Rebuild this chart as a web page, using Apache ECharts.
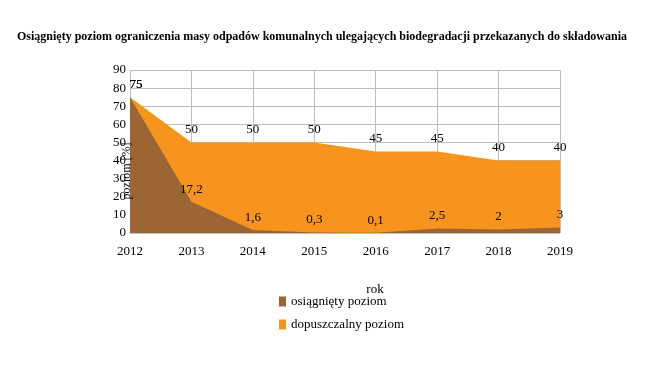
<!DOCTYPE html>
<html><head><meta charset="utf-8">
<script src="https://cdn.jsdelivr.net/npm/echarts@6/dist/echarts.min.js"></script>
<style>html,body{margin:0;padding:0;background:#fff}#c{width:657px;height:369px}</style>
</head><body><div id="c"></div>
<script>
var years = ['2012','2013','2014','2015','2016','2017','2018','2019'];
var osiagniety = [75, 17.2, 1.6, 0.3, 0.1, 2.5, 2, 3];
var dopuszczalny = [75, 50, 50, 50, 45, 45, 40, 40];
var seriesNames = ['osiągnięty poziom', 'dopuszczalny poziom'];
var yAxisName = 'poziom [%]';
var font = 'Liberation Serif, Times New Roman, serif';
function fmt(v){ return String(v).replace('.', ','); }
function mk(arr){
  return arr.map(function(v,i){
    var o = {value: v};
    if (i === 0) o.label = {offset: [6, 0]};
    return o;
  });
}
var chart = echarts.init(document.getElementById('c'));
chart.setOption({
  animation: false,
  title: {text: 'Osiągnięty poziom ograniczenia masy odpadów komunalnych ulegających biodegradacji przekazanych do składowania',
    left: 12, top: 26, textStyle: {fontFamily: font, fontSize: 12, fontWeight: 'bold', color: '#000'}},
  grid: {left: 130, right: 97, top: 70, bottom: 136},
  legend: {orient: 'vertical', left: 274, top: 290, itemWidth: 7, itemHeight: 10, itemGap: 10,
    data: [seriesNames[0], seriesNames[1]],
    textStyle: {fontFamily: font, fontSize: 13, color: '#000'}, icon: 'rect'},
  graphic: [{type: 'text', x: 127, y: 171, rotation: Math.PI / 2, z: 10,
    style: {text: yAxisName, fontFamily: font, fontSize: 12, fill: '#000', align: 'center', verticalAlign: 'middle'}}],
  xAxis: {type: 'category', data: years, boundaryGap: false,
    name: 'rok', nameLocation: 'middle', nameGap: 50,
    nameTextStyle: {fontFamily: font, fontSize: 13, color: '#000', padding: [0, 0, 0, 60]},
    axisLine: {show: false}, axisTick: {show: false},
    axisLabel: {fontFamily: font, fontSize: 13, color: '#000', margin: 12},
    splitLine: {show: true, lineStyle: {color: '#bdbdbd', width: 1}}},
  yAxis: {type: 'value', min: 0, max: 90, interval: 10,
    axisLine: {show: false}, axisTick: {show: false},
    axisLabel: {fontFamily: font, fontSize: 13, color: '#000', margin: 4},
    splitLine: {show: true, lineStyle: {color: '#bdbdbd', width: 1}}},
  series: [
    {name: seriesNames[1], type: 'line', data: mk(dopuszczalny), symbol: 'circle', symbolSize: 0.1, showSymbol: true, z: 2,
      lineStyle: {width: 0}, itemStyle: {color: '#F7941D'}, areaStyle: {color: '#F7941D', opacity: 1},
      label: {show: true, position: 'top', distance: 6, fontFamily: font, fontSize: 13, color: '#000', formatter: function(p){return fmt(p.value);}}},
    {name: seriesNames[0], type: 'line', data: mk(osiagniety), symbol: 'circle', symbolSize: 0.1, showSymbol: true, z: 3,
      lineStyle: {width: 0}, itemStyle: {color: '#9B6534'}, areaStyle: {color: '#9B6534', opacity: 1},
      label: {show: true, position: 'top', distance: 6, fontFamily: font, fontSize: 13, color: '#000', formatter: function(p){return fmt(p.value);}}}
  ]
});
</script></body></html>
